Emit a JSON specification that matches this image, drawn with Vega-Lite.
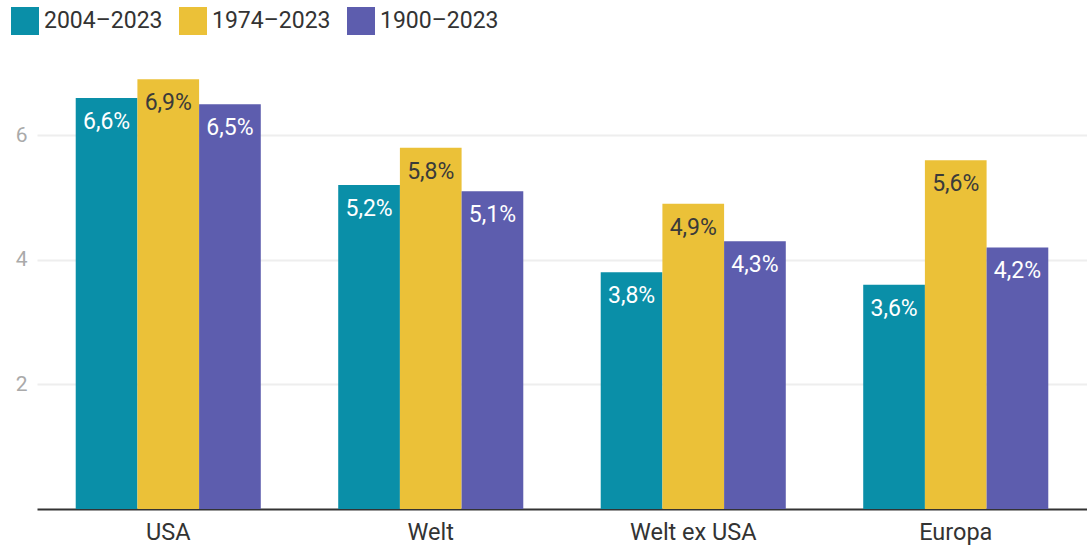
{
  "$schema": "https://vega.github.io/schema/vega-lite/v6.json",
  "autosize": {"type": "none"},
  "width": 1050,
  "height": 436,
  "padding": {"left": 37, "top": 73, "right": 0, "bottom": 43},
  "background": "white",
  "config": {
    "font": "Roboto",
    "view": {"stroke": null}
  },
  "data": {
    "values": [
      {"region": "USA", "period": "2004–2023", "value": 6.6, "label": "6,6%"},
      {"region": "USA", "period": "1974–2023", "value": 6.9, "label": "6,9%"},
      {"region": "USA", "period": "1900–2023", "value": 6.5, "label": "6,5%"},
      {"region": "Welt", "period": "2004–2023", "value": 5.2, "label": "5,2%"},
      {"region": "Welt", "period": "1974–2023", "value": 5.8, "label": "5,8%"},
      {"region": "Welt", "period": "1900–2023", "value": 5.1, "label": "5,1%"},
      {"region": "Welt ex USA", "period": "2004–2023", "value": 3.8, "label": "3,8%"},
      {"region": "Welt ex USA", "period": "1974–2023", "value": 4.9, "label": "4,9%"},
      {"region": "Welt ex USA", "period": "1900–2023", "value": 4.3, "label": "4,3%"},
      {"region": "Europa", "period": "2004–2023", "value": 3.6, "label": "3,6%"},
      {"region": "Europa", "period": "1974–2023", "value": 5.6, "label": "5,6%"},
      {"region": "Europa", "period": "1900–2023", "value": 4.2, "label": "4,2%"}
    ]
  },
  "encoding": {
    "x": {
      "field": "region", "type": "nominal", "sort": null,
      "scale": {"paddingInner": 0.295, "paddingOuter": 0.1475},
      "axis": {
        "title": null, "labelAngle": 0, "labelFontSize": 23.5, "labelColor": "#333333",
        "labelPadding": 11, "ticks": false, "domainColor": "#333333", "domainWidth": 2,
        "labelFont": "Roboto"
      }
    },
    "xOffset": {"field": "period", "type": "nominal", "sort": ["2004–2023", "1974–2023", "1900–2023"]},
    "y": {
      "field": "value", "type": "quantitative",
      "scale": {"domain": [0, 7], "nice": false},
      "axis": {
        "title": null, "values": [2, 4, 6], "domain": false, "ticks": false,
        "labelFontSize": 21, "labelColor": "#aaaaaa", "labelPadding": 10,
        "gridColor": "#eeeeee", "gridWidth": 2, "labelFont": "Roboto"
      }
    }
  },
  "layer": [
    {
      "mark": {"type": "bar"},
      "encoding": {
        "color": {
          "field": "period", "type": "nominal",
          "sort": ["2004–2023", "1974–2023", "1900–2023"],
          "scale": {"domain": ["2004–2023", "1974–2023", "1900–2023"], "range": ["#0a8fa8", "#ebc138", "#5d5dae"]},
          "legend": {
            "title": null, "orient": "none", "direction": "horizontal",
            "legendX": -26, "legendY": -66,
            "symbolType": "square", "symbolSize": 784, "symbolStrokeWidth": 0, "symbolOpacity": 1,
            "labelFontSize": 23, "labelColor": "#333333", "labelFont": "Roboto",
            "labelOffset": 5, "columnPadding": 16
          }
        }
      }
    },
    {
      "mark": {"type": "text", "baseline": "middle", "dy": 24, "fontSize": 23, "font": "Roboto"},
      "encoding": {
        "text": {"field": "label"},
        "color": {
          "condition": {"test": "datum.period === '1974–2023'", "value": "#3a3a3a"},
          "value": "white"
        }
      }
    }
  ]
}
